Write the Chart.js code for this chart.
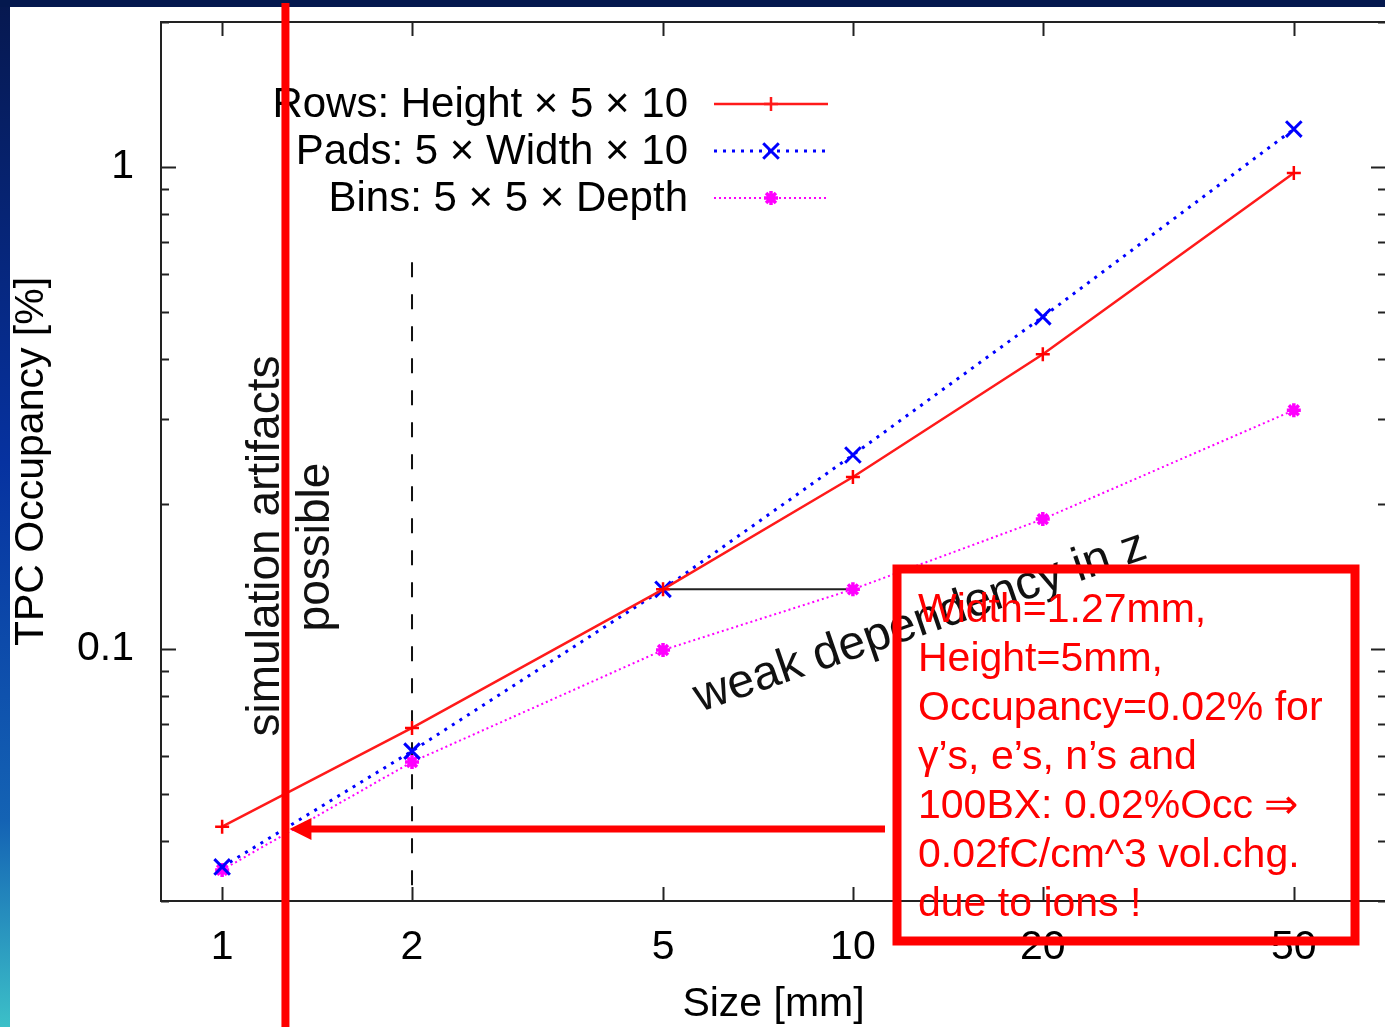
<!DOCTYPE html>
<html>
<head>
<meta charset="utf-8">
<script src="https://cdn.jsdelivr.net/npm/chart.js@4/dist/chart.umd.min.js"></script>
<style>
  html, body { margin: 0; padding: 0; overflow: hidden; background: #fff; }
  canvas { display: block; }
</style>
</head>
<body>
<canvas id="occChart" width="1400" height="1027"></canvas>
<script>
// pad size [mm] and occupancy [%]
const sizes = [1, 2, 5, 10, 20, 50];
const rowsOcc = [0.0428, 0.0686, 0.133, 0.2275, 0.409, 0.972];
const padsOcc = [0.0353, 0.0614, 0.133, 0.2527, 0.489, 1.199];
const binsOcc = [0.0348, 0.0583, 0.0995, 0.133, 0.186, 0.313];

const seriesNames = ['Rows: Height \u00d7 5 \u00d7 10', 'Pads: 5 \u00d7 Width \u00d7 10', 'Bins: 5 \u00d7 5 \u00d7 Depth'];

const xTicks = [1, 2, 5, 10, 20, 50];
const yTicks = [0.03, 0.04, 0.05, 0.06, 0.07, 0.08, 0.09, 0.1, 0.2, 0.3, 0.4, 0.5, 0.6, 0.7, 0.8, 0.9, 1, 2];
const yLabelled = [0.1, 1];

const cutWidth = 1.26;      // chosen pad width marker (red line)
const cutOcc = 0.0423;      // occupancy the red arrow points to
const dashTopOcc = 0.635;   // where the dashed line at 2 mm starts

const boxLines = [
  'Width=1.27mm,',
  'Height=5mm,',
  'Occupancy=0.02% for',
  '\u03b3\u2019s, e\u2019s, n\u2019s and',
  '100BX: 0.02%Occ \u21d2',
  '0.02fC/cm^3 vol.chg.',
  'due to ions !'
];

const FONT = "'Liberation Sans', Arial, sans-serif";

function pts(ys) {
  return sizes.map((x, i) => ({ x: x, y: ys[i] }));
}

const decor = {
  id: 'decor',
  beforeDraw(chart) {
    const ctx = chart.ctx;
    ctx.save();
    ctx.fillStyle = '#fff';
    ctx.fillRect(0, 0, chart.width, chart.height);
    const g = ctx.createLinearGradient(0, 0, 0, chart.height);
    g.addColorStop(0, '#06184f');
    g.addColorStop(0.45, '#0632a0');
    g.addColorStop(0.8, '#1463b4');
    g.addColorStop(1, '#3cc0c8');
    ctx.fillStyle = g;
    ctx.fillRect(0, 0, 10, chart.height);
    ctx.fillStyle = '#04184e';
    ctx.fillRect(0, 0, chart.width, 7);
    ctx.restore();
  },
  beforeDatasetsDraw(chart) {
    const ctx = chart.ctx;
    const a = chart.chartArea;
    const xs = chart.scales.x, ys = chart.scales.y;
    ctx.save();
    ctx.strokeStyle = '#222';
    ctx.lineWidth = 2;
    ctx.strokeRect(a.left, a.top, a.right - a.left, a.bottom - a.top);
    ctx.beginPath();
    xTicks.forEach(v => {
      const px = Math.round(xs.getPixelForValue(v)) + 0.5;
      ctx.moveTo(px, a.bottom); ctx.lineTo(px, a.bottom - 14);
      ctx.moveTo(px, a.top); ctx.lineTo(px, a.top + 14);
    });
    yTicks.forEach(v => {
      const py = Math.round(ys.getPixelForValue(v)) + 0.5;
      const len = yLabelled.includes(v) ? 15 : 8;
      ctx.moveTo(a.left, py); ctx.lineTo(a.left + len, py);
      ctx.moveTo(a.right, py); ctx.lineTo(a.right - len, py);
    });
    ctx.stroke();

    // dashed line at 2 mm
    const x2 = xs.getPixelForValue(sizes[1]);
    ctx.setLineDash([15, 17]);
    ctx.lineWidth = 2;
    ctx.strokeStyle = '#111';
    ctx.beginPath();
    ctx.moveTo(x2, ys.getPixelForValue(dashTopOcc));
    ctx.lineTo(x2, a.bottom);
    ctx.stroke();
    ctx.setLineDash([]);

    // horizontal link from 5 mm to 10 mm
    ctx.lineWidth = 2;
    ctx.strokeStyle = '#222';
    ctx.beginPath();
    ctx.moveTo(xs.getPixelForValue(sizes[2]), ys.getPixelForValue(binsOcc[3]));
    ctx.lineTo(xs.getPixelForValue(sizes[3]), ys.getPixelForValue(binsOcc[3]));
    ctx.stroke();
    ctx.restore();
  },
  afterDatasetsDraw(chart) {
    const ctx = chart.ctx;
    ctx.save();
    // in-plot legend, gnuplot style
    ctx.font = '42px ' + FONT;
    ctx.fillStyle = '#000';
    ctx.textAlign = 'right';
    ctx.textBaseline = 'middle';
    chart.data.datasets.forEach((ds, i) => {
      const y = 104 + i * 47;
      ctx.fillText(seriesNames[i], 688, y + 1);
      ctx.strokeStyle = ds.borderColor;
      ctx.lineWidth = ds.borderWidth;
      ctx.setLineDash(ds.borderDash || []);
      ctx.beginPath();
      ctx.moveTo(714, y); ctx.lineTo(828, y);
      ctx.stroke();
      ctx.setLineDash([]);
      ctx.lineWidth = ds.pointBorderWidth;
      Chart.helpers.drawPoint(ctx, {
        pointStyle: ds.pointStyle, radius: ds.pointRadius, rotation: 0, borderWidth: ds.pointBorderWidth
      }, 771, y);
    });

    // text notes
    ctx.fillStyle = '#111';
    ctx.font = '46px ' + FONT;
    ctx.textAlign = 'center';
    ctx.textBaseline = 'middle';
    ctx.save();
    ctx.translate(266, 546);
    ctx.rotate(-Math.PI / 2);
    ctx.fillText('simulation artifacts', 0, 0);
    ctx.restore();
    ctx.save();
    ctx.translate(316, 547);
    ctx.rotate(-Math.PI / 2);
    ctx.fillText('possible', 0, 0);
    ctx.restore();
    ctx.save();
    ctx.font = '48px ' + FONT;
    ctx.translate(700, 712);
    ctx.rotate(-19 * Math.PI / 180);
    ctx.textAlign = 'left';
    ctx.textBaseline = 'alphabetic';
    ctx.fillText('weak dependency in z', 0, 0);
    ctx.restore();
    ctx.restore();
  },
  afterDraw(chart) {
    const ctx = chart.ctx;
    const xs = chart.scales.x, ys = chart.scales.y;
    ctx.save();
    ctx.strokeStyle = '#ff0000';
    ctx.fillStyle = '#ff0000';
    // vertical red marker at chosen width
    const xc = xs.getPixelForValue(cutWidth);
    ctx.lineWidth = 8;
    ctx.beginPath();
    ctx.moveTo(xc, 3); ctx.lineTo(xc, chart.height);
    ctx.stroke();
    // arrow
    const ya = ys.getPixelForValue(cutOcc);
    const tip = xc + 4;
    ctx.lineWidth = 7;
    ctx.beginPath();
    ctx.moveTo(885, ya); ctx.lineTo(tip + 16, ya);
    ctx.stroke();
    ctx.beginPath();
    ctx.moveTo(tip, ya);
    ctx.lineTo(tip + 22, ya - 11);
    ctx.lineTo(tip + 22, ya + 11);
    ctx.closePath();
    ctx.fill();
    // red box
    ctx.lineWidth = 9;
    ctx.strokeRect(897, 569, 1355 - 897, 941 - 569);
    ctx.font = '41px ' + FONT;
    ctx.textAlign = 'left';
    ctx.textBaseline = 'alphabetic';
    boxLines.forEach((t, i) => ctx.fillText(t, 918, 622 + i * 49));
    ctx.restore();
  }
};

const ctx = document.getElementById('occChart').getContext('2d');
new Chart(ctx, {
  type: 'line',
  data: {
    datasets: [
      {
        label: seriesNames[0], data: pts(rowsOcc),
        borderColor: '#ff1a1a', backgroundColor: '#ff1a1a', borderWidth: 2.5,
        pointStyle: 'cross', pointRadius: 7, pointBorderWidth: 2.5, pointBorderColor: '#ff0000'
      },
      {
        label: seriesNames[1], data: pts(padsOcc),
        borderColor: '#0000ff', backgroundColor: '#0000ff', borderWidth: 3, borderDash: [3, 6],
        pointStyle: 'crossRot', pointRadius: 11, pointBorderWidth: 3, pointBorderColor: '#0000ff'
      },
      {
        label: seriesNames[2], data: pts(binsOcc),
        borderColor: '#ff00ff', backgroundColor: '#ff00ff', borderWidth: 2, borderDash: [2, 3],
        pointStyle: 'star', pointRadius: 7, pointBorderWidth: 3.5, pointBorderColor: '#ff00ff'
      }
    ]
  },
  options: {
    responsive: false,
    devicePixelRatio: 1,
    animation: false,
    layout: { padding: { top: 22, right: 13, left: 0, bottom: 0 } },
    plugins: { legend: { display: false }, tooltip: { enabled: false } },
    elements: { line: { tension: 0 } },
    scales: {
      x: {
        type: 'logarithmic', min: 0.8, max: 70,
        afterBuildTicks: s => { s.ticks = xTicks.map(v => ({ value: v })); },
        afterFit: s => { s.height = 126; s.paddingLeft = 0; s.paddingRight = 0; },
        grid: { display: false, drawTicks: false },
        border: { display: false },
        ticks: {
          autoSkip: false, maxRotation: 0, padding: 22, color: '#000',
          font: { family: FONT, size: 41 },
          callback: v => String(v)
        },
        title: {
          display: true, text: 'Size [mm]', color: '#000',
          font: { family: FONT, size: 41, lineHeight: 1 }, padding: { top: 0, bottom: 2 }
        }
      },
      y: {
        type: 'logarithmic', min: 0.03, max: 2,
        afterBuildTicks: s => { s.ticks = yTicks.map(v => ({ value: v })); },
        afterFit: s => { s.width = 161; s.paddingTop = 0; s.paddingBottom = 0; },
        grid: { display: false, drawTicks: false },
        border: { display: false },
        ticks: {
          autoSkip: false, padding: 27, color: '#000',
          font: { family: FONT, size: 41 },
          callback: v => (yLabelled.includes(v) ? String(v) : '')
        },
        title: {
          display: true, text: 'TPC Occupancy [%]', color: '#000',
          font: { family: FONT, size: 41, lineHeight: 1 }, padding: { top: 11, bottom: 0 }
        }
      }
    }
  },
  plugins: [decor]
});
</script>
</body>
</html>
